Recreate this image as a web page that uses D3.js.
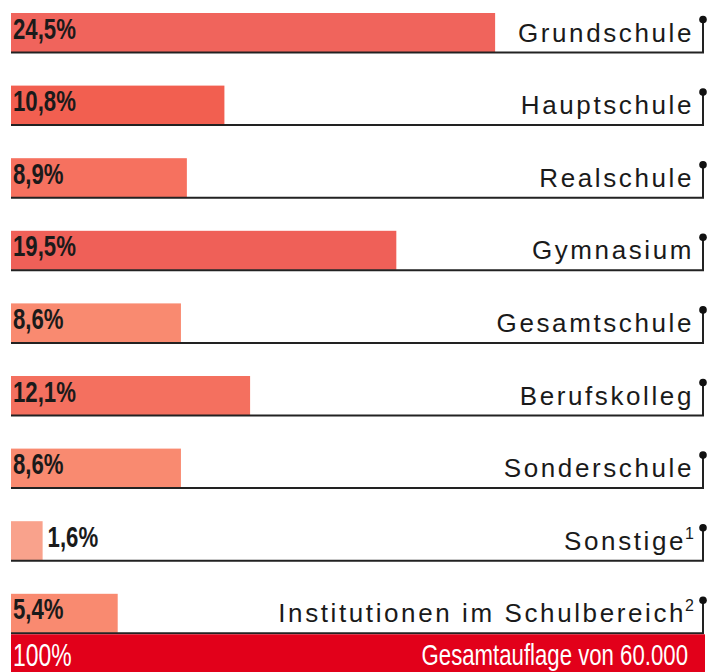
<!DOCTYPE html>
<html lang="de">
<head>
<meta charset="utf-8">
<script src="https://cdn.jsdelivr.net/npm/d3@7"></script>
<style>
  html, body { margin: 0; padding: 0; background: #fff; }
  svg { display: block; }
</style>
</head>
<body>
<div id="chart"></div>
<script>
// Schulformen und Anteile an der Gesamtauflage (in %)
const categories = [
  "Grundschule", "Hauptschule", "Realschule", "Gymnasium", "Gesamtschule",
  "Berufskolleg", "Sonderschule", "Sonstige", "Institutionen im Schulbereich"
];
const shares = [24.5, 10.8, 8.9, 19.5, 8.6, 12.1, 8.6, 1.6, 5.4];
const footnotes = ["", "", "", "", "", "", "", "1", "2"];
const barColors = [
  "#f0645c", "#f25f50", "#f6715f", "#ef6058", "#f98a70",
  "#f4705f", "#f98a70", "#f9a28c", "#f98a70"
];
const totalLabel = "100%";
const totalText = "Gesamtauflage von 60.000";

const W = 710, H = 672;
const left = 11, lineEnd = 703;
const barH = 39, step = 72.6;
const narrow = 0.74; // horizontale Stauchung für die Zahlenschrift

const svg = d3.select("#chart").append("svg")
  .attr("width", W).attr("height", H);

const x = d3.scaleLinear().domain([0, 25]).range([left, left + 25 * 19.76]);
const y = d3.scaleBand()
  .domain(categories)
  .range([13, 13 + 8 * step + barH])
  .paddingInner((step - barH) / step)
  .paddingOuter(0);

const rows = categories.map((c, i) => ({
  cat: c, value: shares[i], note: footnotes[i], color: barColors[i]
}));

const g = svg.append("g");

// Balken
g.selectAll("rect.bar").data(rows).join("rect")
  .attr("class", "bar")
  .attr("x", x(0))
  .attr("y", d => y(d.cat))
  .attr("width", d => x(d.value) - x(0))
  .attr("height", y.bandwidth())
  .attr("fill", d => d.color);

// Grundlinie mit Stecknadel rechts
const base = d => y(d.cat) + y.bandwidth() + 0.5;
g.selectAll("path.rule").data(rows).join("path")
  .attr("class", "rule")
  .attr("d", d => `M${left},${base(d)}H${lineEnd}V${base(d) - 32}`)
  .attr("fill", "none")
  .attr("stroke", "#222")
  .attr("stroke-width", 2);
g.selectAll("circle.pin").data(rows).join("circle")
  .attr("class", "pin")
  .attr("cx", lineEnd)
  .attr("cy", d => base(d) - 33)
  .attr("r", 3.8)
  .attr("fill", "#111");

// Prozentwerte (schmal gesetzt)
const valueFont = "'Liberation Sans', Arial, sans-serif";
const fmt = v => d3.format(".1f")(v).replace(".", ",") + "%";
g.selectAll("text.val").data(rows).join("text")
  .attr("class", "val")
  .attr("transform", d => {
    const tx = (x(d.value) - x(0) < 50 ? x(d.value) + 5 : left + 2);
    return `translate(${tx},${base(d) - 14}) scale(${narrow},1)`;
  })
  .attr("font-family", valueFont)
  .attr("font-weight", "bold")
  .attr("font-size", 30)
  .attr("fill", "#1a1a1a")
  .text(d => fmt(d.value));

// Kategorienamen rechtsbündig
const labels = g.selectAll("text.cat").data(rows).join("text")
  .attr("class", "cat")
  .attr("x", 694)
  .attr("y", d => base(d) - 11)
  .attr("text-anchor", "end")
  .attr("font-family", "'Liberation Sans', Arial, sans-serif")
  .attr("font-size", 26)
  .attr("fill", "#1a1a1a");
labels.append("tspan")
  .attr("letter-spacing", 2.6)
  .text(d => d.cat);
labels.filter(d => d.note).append("tspan")
  .attr("dx", -1)
  .attr("dy", -11)
  .attr("font-size", 16)
  .text(d => d.note);

// Gesamtbalken
const totalTop = y(categories[categories.length - 1]) + y.bandwidth() + 1.5;
svg.append("rect")
  .attr("x", left).attr("y", totalTop)
  .attr("width", 705 - left).attr("height", H - totalTop)
  .attr("fill", "#e2001a");
svg.append("text")
  .attr("transform", `translate(${left + 2},666) scale(${narrow},1)`)
  .attr("font-family", valueFont)
  .attr("font-size", 31)
  .attr("fill", "#fff")
  .text(totalLabel);
svg.append("text")
  .attr("transform", `translate(688,665) scale(${narrow},1)`)
  .attr("text-anchor", "end")
  .attr("font-family", valueFont)
  .attr("font-size", 30)
  .attr("fill", "#fff")
  .text(totalText);
</script>
</body>
</html>
